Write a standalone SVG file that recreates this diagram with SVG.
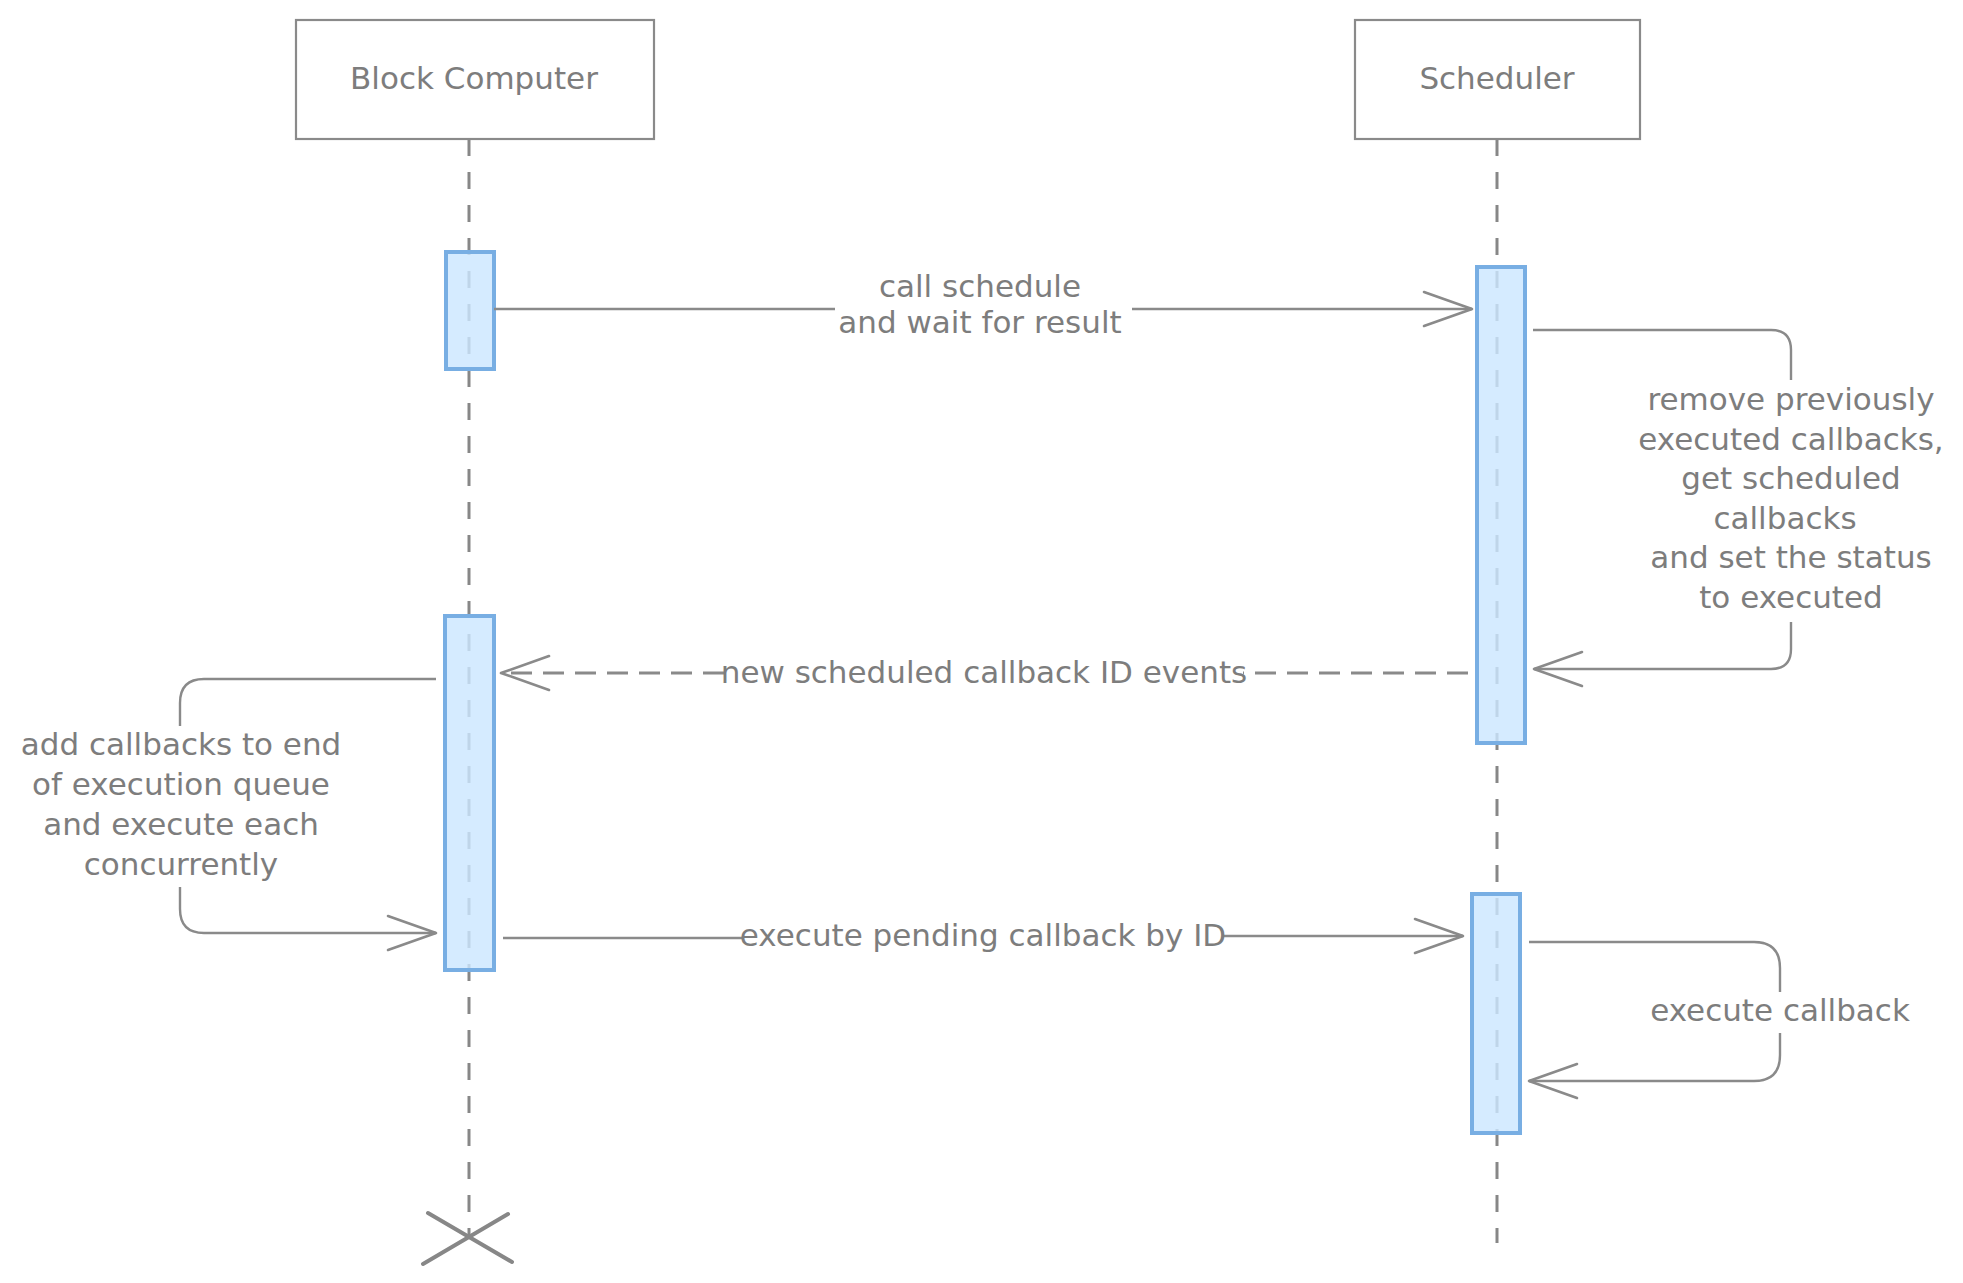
<svg xmlns="http://www.w3.org/2000/svg" width="1963" height="1283" viewBox="0 0 1963 1283">
<style>
  .actor { fill: #ffffff; stroke: #8a8a8a; stroke-width: 2.2; }
  .lbl { font-family: "DejaVu Sans", "Liberation Sans", sans-serif; font-size: 31px; fill: #7d7d7d; text-anchor: middle; }
  .life { stroke: #878787; stroke-width: 3; stroke-dasharray: 17 16; fill: none; }
  .act { fill: #cce6ff; fill-opacity: 0.82; stroke: #78aee3; stroke-width: 4; }
  .msg { stroke: #8a8a8a; stroke-width: 2.4; fill: none; }
  .dash { stroke-dasharray: 21 11; stroke-width: 2.8; }
</style>
<defs>
  <marker id="open" viewBox="0 0 52 38" markerWidth="52" markerHeight="38" refX="50" refY="19" orient="auto" markerUnits="userSpaceOnUse">
    <path d="M2,2 L50,19 L2,36" fill="none" stroke="#8a8a8a" stroke-width="2.6" stroke-linecap="round" stroke-linejoin="round"/>
  </marker>
</defs>
<rect width="1963" height="1283" fill="#ffffff"/>

<g id="lifelines">
  <line class="life" x1="469" y1="139" x2="469" y2="1237"/>
  <line class="life" x1="1497" y1="139" x2="1497" y2="1243"/>
</g>

<g id="actor-block-computer">
  <rect class="actor" x="296" y="20" width="358" height="119"/>
  <text class="lbl" x="474" y="89">Block Computer</text>
</g>
<g id="actor-scheduler">
  <rect class="actor" x="1355" y="20" width="285" height="119"/>
  <text class="lbl" x="1497" y="89">Scheduler</text>
</g>

<g id="activations">
  <rect class="act" x="446" y="252" width="48" height="117"/>
  <rect class="act" x="1477" y="267" width="48" height="476"/>
  <rect class="act" x="445" y="616" width="49" height="354"/>
  <rect class="act" x="1472" y="894" width="48" height="239"/>
</g>

<g id="destroy-block-computer">
  <line x1="428" y1="1213" x2="512" y2="1262" stroke="#878787" stroke-width="4" stroke-linecap="round"/>
  <line x1="423" y1="1264" x2="508" y2="1214" stroke="#878787" stroke-width="4" stroke-linecap="round"/>
</g>

<g id="connectors">
  <path class="msg" d="M494,309 H835"/>
  <path class="msg" d="M1132,309 H1472" marker-end="url(#open)"/>
  <path class="msg" d="M1533,330 H1771 Q1791,330 1791,350 V380"/>
  <path class="msg" d="M1791,622 V649 Q1791,669 1771,669 H1534" marker-end="url(#open)"/>
  <path class="msg dash" d="M1468,673 H1243"/>
  <path class="msg dash" d="M724,673 H501" marker-end="url(#open)"/>
  <path class="msg" d="M436,679 H204 Q180,679 180,703 V726"/>
  <path class="msg" d="M180,887 V909 Q180,933 204,933 H436" marker-end="url(#open)"/>
  <path class="msg" d="M503,938 H744"/>
  <path class="msg" d="M1222,936 H1463" marker-end="url(#open)"/>
  <path class="msg" d="M1529,942 H1754 Q1780,942 1780,968 V992"/>
  <path class="msg" d="M1780,1033 V1055 Q1780,1081 1754,1081 H1529" marker-end="url(#open)"/>
</g>

<g id="labels">
  <text class="lbl" x="980" y="297">call schedule</text>
  <text class="lbl" x="980" y="333">and wait for result</text>

  <text class="lbl" x="1791" y="410">remove previously</text>
  <text class="lbl" x="1791" y="449.6">executed callbacks,</text>
  <text class="lbl" x="1791" y="489.2">get scheduled</text>
  <text class="lbl" x="1785" y="528.8">callbacks</text>
  <text class="lbl" x="1791" y="568.4">and set the status</text>
  <text class="lbl" x="1791" y="608">to executed</text>

  <text class="lbl" x="984" y="683">new scheduled callback ID events</text>

  <text class="lbl" x="181" y="755">add callbacks to end</text>
  <text class="lbl" x="181" y="795">of execution queue</text>
  <text class="lbl" x="181" y="835">and execute each</text>
  <text class="lbl" x="181" y="875">concurrently</text>

  <text class="lbl" x="983" y="946">execute pending callback by ID</text>

  <text class="lbl" x="1780" y="1021">execute callback</text>
</g>
</svg>
